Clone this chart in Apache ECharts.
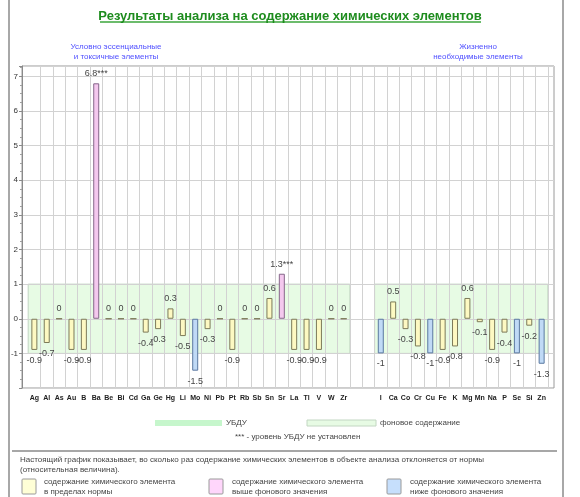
<!DOCTYPE html>
<html>
<head>
<meta charset="utf-8">
<script src="https://cdn.jsdelivr.net/npm/echarts@6/dist/echarts.min.js"></script>
<style>
html,body{margin:0;padding:0;background:#fff;}
#chart{width:580px;height:497px;}
</style>
</head>
<body>
<div id="chart"></div>
<script>
// ---- data ----
const leftCats = ['Ag','Al','As','Au','B','Ba','Be','Bi','Cd','Ga','Ge','Hg','Li','Mo','Ni','Pb','Pt','Rb','Sb','Sn','Sr','La','Tl','V','W','Zr'];
const leftVals = [-0.9,-0.7,0,-0.9,-0.9,6.8,0,0,0,-0.4,-0.3,0.3,-0.5,-1.5,-0.3,0,-0.9,0,0,0.6,1.3,-0.9,-0.9,-0.9,0,0];
const rightCats = ['I','Ca','Co','Cr','Cu','Fe','K','Mg','Mn','Na','P','Se','Si','Zn'];
const rightVals = [-1,0.5,-0.3,-0.8,-1,-0.9,-0.8,0.6,-0.1,-0.9,-0.4,-1,-0.2,-1.3];
const gapCats = [' ', '  '];
const noUbdu = ['Ba','Sr'];
const bandRange = [-1, 1];
const yRange = [-2, 7.3];
const titleText = 'Результаты анализа на содержание химических элементов';
const groupTitles = [['Условно эссенциальные','и токсичные элементы'],['Жизненно','необходимые элементы']];

// ---- build ----
const cats = leftCats.concat(gapCats, rightCats);
const vals = leftVals.concat(gapCats.map(() => null), rightVals);
const FONT = '"Liberation Sans", Arial, sans-serif';

const colors = {
  norm: {fill:'#fdf9c2', stroke:'#7c7a58'},
  high: {fill:'#f4c8ee', stroke:'#86668a'},
  low:  {fill:'#c0daf6', stroke:'#5a78a0'}
};
function cls(v){ if (v > bandRange[1]) return 'high'; if (v <= bandRange[0]) return 'low'; return 'norm'; }

const barData = vals.map(v => {
  if (v == null) return null;
  const c = colors[cls(v)];
  return {
    value: v,
    itemStyle: {color: c.fill, borderColor: c.stroke, borderWidth: 1},
    label: {position: v >= 0 ? 'top' : 'bottom', distance: v >= 0 ? 5 : 6}
  };
});

const bandData = [
  [0, leftCats.length - 1, bandRange[0], bandRange[1]],
  [leftCats.length + gapCats.length, cats.length - 1, bandRange[0], bandRange[1]]
];

const chart = echarts.init(document.getElementById('chart'), null, {renderer:'canvas'});

const gridLeft = 22, gridRight = 26, gridTop = 66, gridBottom = 109;
const plotW = 580 - gridLeft - gridRight;
const halfCell = plotW / (cats.length + 1) / 2;

function txt(x, y, s, opt) {
  return {type:'text', x:x, y:y, silent:true,
    style: Object.assign({text:s, font:'8px ' + FONT, fill:'#444', textVerticalAlign:'middle', verticalAlign:'middle'}, opt || {})};
}

chart.setOption({
  animation: false,
  textStyle: {fontFamily: FONT},
  title: [{
    text: titleText, left: 'center', top: 5,
    textStyle: {color:'#1e8c1e', fontSize:13, fontWeight:'bold', fontFamily: FONT}
  }],
  grid: [
    {left:gridLeft, right:gridRight, top:gridTop, bottom:gridBottom, show:true, borderColor:'#9a9a9a', borderWidth:1, outerBoundsMode:'none'},
    {left:gridLeft + halfCell, right:gridRight + halfCell, top:gridTop, bottom:gridBottom, outerBoundsMode:'none'}
  ],
  xAxis: [
    {gridIndex:0, type:'value', min:0, max:1, show:false},
    {gridIndex:1, type:'category', data:cats, boundaryGap:true,
     axisLine:{show:false}, axisTick:{show:false},
     axisLabel:{interval:0, fontSize:7, fontWeight:'bold', color:'#222', margin:7},
     splitLine:{show:true, interval:function(i){ return i > 0; }, lineStyle:{color:'#d2d2d2', width:1}}}
  ],
  yAxis: [
    {gridIndex:0, type:'value', min:yRange[0], max:yRange[1], interval:1,
     axisLine:{show:true, lineStyle:{color:'#8a8a8a'}},
     axisTick:{show:true, length:3, lineStyle:{color:'#8a8a8a'}},
     minorTick:{show:true, splitNumber:4, length:2, lineStyle:{color:'#a0a0a0'}},
     axisLabel:{fontSize:8, color:'#333', margin:4, formatter:function(v){ return (Number.isInteger(v) && v > yRange[0]) ? String(v) : ''; }},
     splitLine:{show:true, lineStyle:{color:'#d2d2d2'}}},
    {gridIndex:1, type:'value', min:yRange[0], max:yRange[1], interval:1, show:false, splitLine:{show:false}}
  ],
  series: [
    {
      type:'custom', xAxisIndex:1, yAxisIndex:1, z:-1, silent:true,
      encode:{x:[0,1], y:[2,3]},
      data: bandData,
      renderItem: function(params, api){
        const a = api.coord([api.value(0), api.value(3)]);
        const b = api.coord([api.value(1), api.value(2)]);
        const w = api.size([1, 0])[0];
        return {type:'rect', shape:{x:a[0] - w/2, y:a[1], width:b[0] - a[0] + w, height:b[1] - a[1]},
                style:{fill:'#e7fbe4', stroke:'#c2d6c2', lineWidth:1}};
      }
    },
    {
      type:'bar', xAxisIndex:1, yAxisIndex:1, barWidth:6,
      data: barData,
      label: {show:true, fontSize:9, color:'#444', fontFamily: FONT,
        formatter: function(p){ if (p.value == null) return ''; return String(p.value) + (noUbdu.indexOf(p.name) >= 0 ? '***' : ''); }}
    }
  ],
  graphic: [
    {type:'line', shape:{x1:9, y1:0, x2:9, y2:497}, style:{stroke:'#a8a8a8', lineWidth:2}, silent:true},
    {type:'line', shape:{x1:563, y1:0, x2:563, y2:497}, style:{stroke:'#a8a8a8', lineWidth:2}, silent:true},
    {type:'rect', shape:{x:100, y:21, width:381, height:2}, style:{fill:'#6cbc6c'}, silent:true},
    txt(116, 47, groupTitles[0][0], {fill:'#5050ff', textAlign:'center', align:'center'}),
    txt(116, 57, groupTitles[0][1], {fill:'#5050ff', textAlign:'center', align:'center'}),
    txt(478, 47, groupTitles[1][0], {fill:'#5050ff', textAlign:'center', align:'center'}),
    txt(478, 57, groupTitles[1][1], {fill:'#5050ff', textAlign:'center', align:'center'}),
    {type:'rect', shape:{x:155, y:420, width:67, height:6}, style:{fill:'#c6f6cc'}, silent:true},
    txt(226, 423, 'УБДУ'),
    {type:'rect', shape:{x:307, y:420, width:69, height:6}, style:{fill:'#e7fbe4', stroke:'#c2d6c2', lineWidth:1}, silent:true},
    txt(380, 423, 'фоновое содержание'),
    txt(235, 437, '*** - уровень УБДУ не установлен'),
    {type:'line', shape:{x1:12, y1:451, x2:557, y2:451}, style:{stroke:'#8a8a8a', lineWidth:1.5}, silent:true},
    txt(20, 460, 'Настоящий график показывает, во сколько раз содержание химических элементов в объекте анализа отклоняется от нормы'),
    txt(20, 470, '(относительная величина).'),
    {type:'rect', shape:{x:22, y:479, width:14, height:15, r:1}, style:{fill:'#ffffd6', stroke:'#9a9a9a', lineWidth:1}, silent:true},
    txt(44, 482, 'содержание химического элемента'),
    txt(44, 492, 'в пределах нормы'),
    {type:'rect', shape:{x:209, y:479, width:14, height:15, r:1}, style:{fill:'#ffd6fb', stroke:'#9a9a9a', lineWidth:1}, silent:true},
    txt(232, 482, 'содержание химического элемента'),
    txt(232, 492, 'выше фонового значения'),
    {type:'rect', shape:{x:387, y:479, width:14, height:15, r:1}, style:{fill:'#c6dffc', stroke:'#9a9a9a', lineWidth:1}, silent:true},
    txt(410, 482, 'содержание химического элемента'),
    txt(410, 492, 'ниже фонового значения')
  ]
});
</script>
</body>
</html>
